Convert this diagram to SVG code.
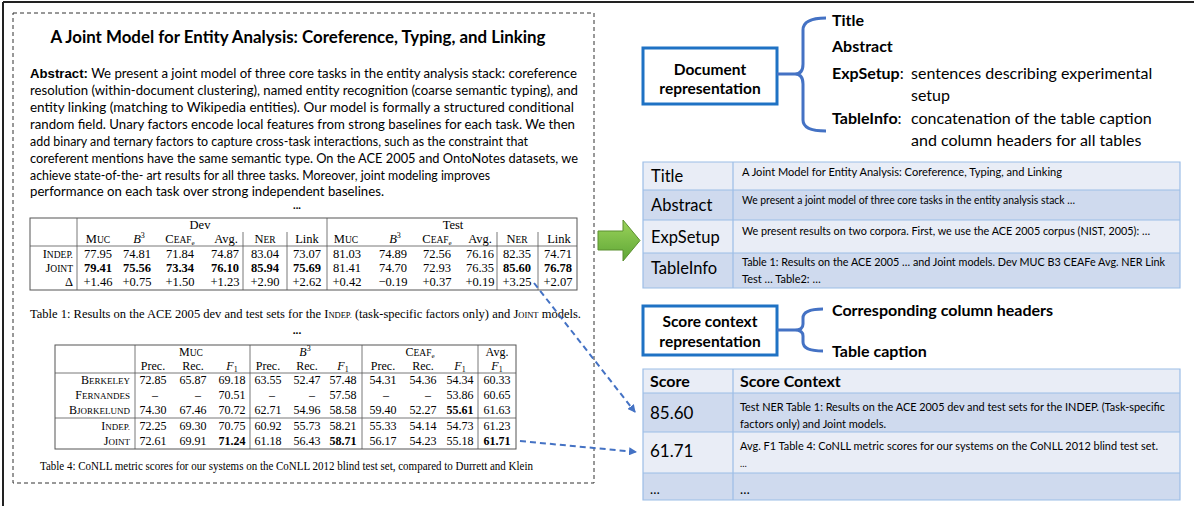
<svg xmlns="http://www.w3.org/2000/svg" width="1194" height="506" viewBox="0 0 1194 506">
<defs>
<style>
.cal{font-family:Lato,"Liberation Sans",sans-serif;fill:#000}
.calb{font-family:Lato,"Liberation Sans",sans-serif;font-weight:bold;fill:#000}
.ser{font-family:"Liberation Serif","Times New Roman",serif;fill:#000;font-size:12.5px}
.t4{font-size:12px}
.mid{text-anchor:middle}
.end{text-anchor:end}
.b{font-weight:bold}
.tl{stroke:#555;stroke-width:1;fill:none}
.tl2{stroke:#555;stroke-width:0.8;fill:none}
.rowL{fill:#e9edf6}
.rowD{fill:#cfdaee}
.grid{stroke:#9cbde6;stroke-width:1.2;fill:none}
.box{fill:#fff;stroke:#1f72c4;stroke-width:3}
.brace{fill:none;stroke:#4472c4;stroke-width:3;stroke-linejoin:round}
.conn{fill:none;stroke:#4472c4;stroke-width:2;stroke-dasharray:6,4}
.sm{font-size:9.5px}
</style>
<linearGradient id="gg" x1="0" y1="0" x2="0" y2="1">
<stop offset="0" stop-color="#9bd35a"/>
<stop offset="1" stop-color="#5ea636"/>
</linearGradient>
<marker id="ah" markerWidth="8" markerHeight="8" refX="7" refY="4" orient="auto" markerUnits="userSpaceOnUse">
<path d="M0,0 L8,4 L0,8 z" fill="#4472c4"/>
</marker>
</defs>
<rect width="1194" height="506" fill="#fff"/>
<!-- outer frame -->
<path d="M3,2 L1194,2 M3,2 L3,506" stroke="#222" stroke-width="2" fill="none"/>

<!-- paper excerpt -->
<g id="paper">
<rect x="13" y="13" width="581" height="470" fill="none" stroke="#333" stroke-width="1" stroke-dasharray="4,3"/>
<text class="calb mid" x="298" y="43" font-size="16.5" textLength="495" lengthAdjust="spacingAndGlyphs">A Joint Model for Entity Analysis: Coreference, Typing, and Linking</text>
<g class="cal" font-size="13.5">
<text x="30" y="78" textLength="547" lengthAdjust="spacingAndGlyphs"><tspan font-family="Liberation Sans,sans-serif" font-weight="bold">Abstract:</tspan> We present a joint model of three core tasks in the entity analysis stack: coreference</text>
<text x="30" y="95" textLength="548" lengthAdjust="spacingAndGlyphs">resolution (within-document clustering), named entity recognition (coarse semantic typing), and</text>
<text x="30" y="112" textLength="544" lengthAdjust="spacingAndGlyphs">entity linking (matching to Wikipedia entities). Our model is formally a structured conditional</text>
<text x="30" y="129" textLength="545" lengthAdjust="spacingAndGlyphs">random field. Unary factors encode local features from strong baselines for each task. We then</text>
<text x="30" y="146" textLength="498" lengthAdjust="spacingAndGlyphs">add binary and ternary factors to capture cross-task interactions, such as the constraint that</text>
<text x="30" y="163" textLength="548" lengthAdjust="spacingAndGlyphs">coreferent mentions have the same semantic type. On the ACE 2005 and OntoNotes datasets, we</text>
<text x="30" y="180" textLength="460" lengthAdjust="spacingAndGlyphs">achieve state-of-the- art results for all three tasks. Moreover, joint modeling improves</text>
<text x="30" y="196" textLength="354" lengthAdjust="spacingAndGlyphs">performance on each task over strong independent baselines.</text>
</g>
<text class="calb mid" x="297" y="209" font-size="11">...</text>

<!-- Table 1 -->
<g id="table1">
<rect class="tl" x="30" y="218" width="547" height="72"/>
<path class="tl2" d="M77,218 V290 M327,218 V290 M243,232 V290 M287,232 V290 M497,232 V290 M538,232 V290 M30,246 H577"/>
<g class="ser">
<text class="mid" x="200" y="229">Dev</text>
<text class="mid" x="453" y="229">Test</text>
<g class="mid">
<text x="98" y="243"><tspan>M</tspan><tspan class="sm">UC</tspan></text>
<text x="139" y="243"><tspan font-style="italic">B</tspan><tspan font-size="8" dy="-5">3</tspan></text>
<text x="180" y="243"><tspan>C</tspan><tspan class="sm">EAF</tspan><tspan font-size="7" dy="2">e</tspan></text>
<text x="226" y="243">Avg.</text>
<text x="265" y="243"><tspan>N</tspan><tspan class="sm">ER</tspan></text>
<text x="307" y="243">Link</text>
<text x="346" y="243"><tspan>M</tspan><tspan class="sm">UC</tspan></text>
<text x="395" y="243"><tspan font-style="italic">B</tspan><tspan font-size="8" dy="-5">3</tspan></text>
<text x="437" y="243"><tspan>C</tspan><tspan class="sm">EAF</tspan><tspan font-size="7" dy="2">e</tspan></text>
<text x="480" y="243">Avg.</text>
<text x="517" y="243"><tspan>N</tspan><tspan class="sm">ER</tspan></text>
<text x="559" y="243">Link</text>
</g>
<g class="end">
<text x="73" y="258"><tspan>I</tspan><tspan class="sm">NDEP.</tspan></text>
<text x="73" y="272"><tspan>J</tspan><tspan class="sm">OINT</tspan></text>
<text x="73" y="286">Δ</text>
</g>
<g class="mid">
<text x="98" y="258">77.95</text><text x="137" y="258">74.81</text><text x="180" y="258">71.84</text><text x="225" y="258">74.87</text><text x="265" y="258">83.04</text><text x="307" y="258">73.07</text><text x="347" y="258">81.03</text><text x="393" y="258">74.89</text><text x="437" y="258">72.56</text><text x="480" y="258">76.16</text><text x="517" y="258">82.35</text><text x="558" y="258">74.71</text>
<g class="b"><text x="98" y="272">79.41</text><text x="137" y="272">75.56</text><text x="180" y="272">73.34</text><text x="225" y="272">76.10</text><text x="265" y="272">85.94</text><text x="307" y="272">75.69</text></g>
<text x="347" y="272">81.41</text><text x="393" y="272">74.70</text><text x="437" y="272">72.93</text><text x="480" y="272">76.35</text>
<g class="b"><text x="517" y="272">85.60</text><text x="558" y="272">76.78</text></g>
<text x="98" y="286">+1.46</text><text x="137" y="286">+0.75</text><text x="180" y="286">+1.50</text><text x="225" y="286">+1.23</text><text x="265" y="286">+2.90</text><text x="307" y="286">+2.62</text><text x="347" y="286">+0.42</text><text x="393" y="286">−0.19</text><text x="437" y="286">+0.37</text><text x="480" y="286">+0.19</text><text x="517" y="286">+3.25</text><text x="558" y="286">+2.07</text>
</g>
</g>
</g>
<text class="ser" x="30" y="318" font-size="11" textLength="551" lengthAdjust="spacingAndGlyphs">Table 1: Results on the ACE 2005 dev and test sets for the <tspan>I</tspan><tspan font-size="8.5">NDEP.</tspan> (task-specific factors only) and <tspan>J</tspan><tspan font-size="8.5">OINT</tspan> models.</text>
<text class="calb mid" x="297" y="334" font-size="12">...</text>

<!-- Table 4 -->
<g id="table4">
<rect class="tl" x="55" y="345" width="461" height="104"/>
<path class="tl2" d="M135,345 V449 M250,345 V449 M362,345 V449 M478,345 V449 M55,373 H516 M55,418 H516"/>
<g class="ser t4">
<g class="mid">
<text x="191" y="356"><tspan>M</tspan><tspan font-size="9.5">UC</tspan></text>
<text x="305" y="356"><tspan font-style="italic">B</tspan><tspan font-size="8" dy="-5">3</tspan></text>
<text x="420" y="356"><tspan>C</tspan><tspan font-size="9.5">EAF</tspan><tspan font-size="7" dy="2">e</tspan></text>
<text x="497" y="356">Avg.</text>
<text x="153" y="370">Prec.</text><text x="193" y="370">Rec.</text><text x="232" y="370"><tspan font-style="italic">F</tspan><tspan font-size="8" dy="2">1</tspan></text>
<text x="268" y="370">Prec.</text><text x="307" y="370">Rec.</text><text x="343" y="370"><tspan font-style="italic">F</tspan><tspan font-size="8" dy="2">1</tspan></text>
<text x="383" y="370">Prec.</text><text x="423" y="370">Rec.</text><text x="460" y="370"><tspan font-style="italic">F</tspan><tspan font-size="8" dy="2">1</tspan></text>
<text x="497" y="370"><tspan font-style="italic">F</tspan><tspan font-size="8" dy="2">1</tspan></text>
</g>
<g class="end">
<text x="130" y="384"><tspan>B</tspan><tspan font-size="9">ERKELEY</tspan></text>
<text x="130" y="399"><tspan>F</tspan><tspan font-size="9">ERNANDES</tspan></text>
<text x="130" y="414"><tspan>B</tspan><tspan font-size="9">JORKELUND</tspan></text>
<text x="130" y="430"><tspan>I</tspan><tspan font-size="9">NDEP.</tspan></text>
<text x="130" y="445"><tspan>J</tspan><tspan font-size="9">OINT</tspan></text>
</g>
<g class="mid">
<text x="153" y="384">72.85</text><text x="193" y="384">65.87</text><text x="232" y="384">69.18</text><text x="268" y="384">63.55</text><text x="307" y="384">52.47</text><text x="343" y="384">57.48</text><text x="383" y="384">54.31</text><text x="423" y="384">54.36</text><text x="460" y="384">54.34</text><text x="497" y="384">60.33</text>
<text x="155" y="399">–</text><text x="198" y="399">–</text><text x="232" y="399">70.51</text><text x="272" y="399">–</text><text x="312" y="399">–</text><text x="343" y="399">57.58</text><text x="386" y="399">–</text><text x="428" y="399">–</text><text x="460" y="399">53.86</text><text x="497" y="399">60.65</text>
<text x="153" y="414">74.30</text><text x="193" y="414">67.46</text><text x="232" y="414">70.72</text><text x="268" y="414">62.71</text><text x="307" y="414">54.96</text><text x="343" y="414">58.58</text><text x="383" y="414">59.40</text><text x="423" y="414">52.27</text><text class="b" x="460" y="414">55.61</text><text x="497" y="414">61.63</text>
<text x="153" y="430">72.25</text><text x="193" y="430">69.30</text><text x="232" y="430">70.75</text><text x="268" y="430">60.92</text><text x="307" y="430">55.73</text><text x="343" y="430">58.21</text><text x="383" y="430">55.33</text><text x="423" y="430">54.14</text><text x="460" y="430">54.73</text><text x="497" y="430">61.23</text>
<text x="153" y="445">72.61</text><text x="193" y="445">69.91</text><text class="b" x="232" y="445">71.24</text><text x="268" y="445">61.18</text><text x="307" y="445">56.43</text><text class="b" x="343" y="445">58.71</text><text x="383" y="445">56.17</text><text x="423" y="445">54.23</text><text x="460" y="445">55.18</text><text class="b" x="497" y="445">61.71</text>
</g>
</g>
</g>
<text class="ser" x="40" y="470" font-size="10.5" textLength="493" lengthAdjust="spacingAndGlyphs">Table 4: CoNLL metric scores for our systems on the CoNLL 2012 blind test set, compared to Durrett and Klein</text>
</g>

<!-- green arrow -->
<g id="green-arrow">
<polygon points="598,231 623,231 623,220 640,240.5 623,261 623,250 598,250" fill="url(#gg)" stroke="#5a8f2e" stroke-width="1"/>
</g>

<!-- document representation -->
<g id="doc-rep">
<rect class="box" x="643" y="48" width="134" height="56"/>
<text class="calb mid" x="710" y="75" font-size="15.5">Document</text>
<text class="calb mid" x="710" y="94" font-size="15.5">representation</text>
</g>
<g id="doc-brace">
<path class="brace" d="M777,74 L795,74 M826,18 Q803,18 803,30 L803,64 Q803,74 795,74 Q803,74 803,84 L803,120 Q803,131 826,131"/>
<text class="calb" x="832" y="26" font-size="16">Title</text>
<text class="calb" x="832" y="52" font-size="16">Abstract</text>
<text class="cal" x="832" y="79" font-size="16"><tspan font-weight="bold">ExpSetup</tspan>:<tspan x="911">sentences describing experimental</tspan></text>
<text class="cal" x="911" y="101" font-size="16">setup</text>
<text class="cal" x="832" y="124" font-size="16"><tspan font-weight="bold">TableInfo</tspan>:<tspan x="911">concatenation of the table caption</tspan></text>
<text class="cal" x="911" y="146" font-size="16">and column headers for all tables</text>
</g>

<!-- document table -->
<g id="doc-table">
<rect class="rowL" x="643" y="162" width="537" height="28"/>
<rect class="rowD" x="643" y="190" width="537" height="30"/>
<rect class="rowL" x="643" y="220" width="537" height="33"/>
<rect class="rowD" x="643" y="253" width="537" height="35"/>
<path class="grid" d="M643,162 H1180 V288 H643 Z M733,162 V288 M643,190 H1180 M643,220 H1180 M643,253 H1180"/>
<g class="cal" font-size="16.5">
<text x="651" y="182">Title</text>
<text x="651" y="211">Abstract</text>
<text x="651" y="243">ExpSetup</text>
<text x="651" y="274">TableInfo</text>
</g>
<g class="cal" font-size="11">
<text x="742" y="176" textLength="320" lengthAdjust="spacingAndGlyphs">A Joint Model for Entity Analysis: Coreference, Typing, and Linking</text>
<text x="742" y="204" textLength="333" lengthAdjust="spacingAndGlyphs">We present a joint model of three core tasks in the entity analysis stack …</text>
<text x="742" y="235" textLength="408" lengthAdjust="spacingAndGlyphs">We present results on two corpora. First, we use the ACE 2005 corpus (NIST, 2005): …</text>
<text x="742" y="266" textLength="423" lengthAdjust="spacingAndGlyphs">Table 1: Results on the ACE 2005 … and Joint models. Dev MUC B3 CEAFe Avg. NER Link</text>
<text x="742" y="283">Test … Table2: …</text>
</g>
</g>

<!-- score context representation -->
<g id="score-rep">
<rect class="box" x="643" y="306" width="134" height="49"/>
<text class="calb mid" x="710" y="327" font-size="15.5">Score context</text>
<text class="calb mid" x="710" y="347" font-size="15.5">representation</text>
</g>
<g id="score-brace">
<path class="brace" d="M777,330 L795,330 M823,309 Q803,309 803,318 L803,324 Q803,330 795,330 Q803,330 803,336 L803,342 Q803,351 823,351"/>
<text class="calb" x="832" y="316" font-size="16">Corresponding column headers</text>
<text class="calb" x="832" y="357" font-size="16">Table caption</text>
</g>

<!-- score table -->
<g id="score-table">
<rect class="rowL" x="643" y="369" width="537" height="24"/>
<rect class="rowD" x="643" y="393" width="537" height="39"/>
<rect class="rowL" x="643" y="432" width="537" height="41"/>
<rect class="rowD" x="643" y="473" width="537" height="27"/>
<path class="grid" d="M643,369 H1180 V500 H643 Z M733,369 V500 M643,393 H1180 M643,432 H1180 M643,473 H1180"/>
<text class="calb" x="650" y="387" font-size="16">Score</text>
<text class="calb" x="740" y="387" font-size="16">Score Context</text>
<text class="cal" x="650" y="419" font-size="17">85.60</text>
<text class="cal" x="650" y="457" font-size="17">61.71</text>
<g class="cal" font-size="11">
<text x="740" y="411" textLength="425" lengthAdjust="spacingAndGlyphs">Test NER Table 1: Results on the ACE 2005 dev and test sets for the INDEP. (Task-specific</text>
<text x="740" y="428">factors only) and Joint models.</text>
<text x="740" y="450" textLength="418" lengthAdjust="spacingAndGlyphs">Avg. F1 Table 4: CoNLL metric scores for our systems on the CoNLL 2012 blind test set.</text>
<text x="740" y="467" font-size="9">…</text>
</g>
<text class="cal" x="650" y="494" font-size="13">…</text>
<text class="cal" x="740" y="494" font-size="13">…</text>
</g>

<!-- connectors -->
<g id="connectors">
<path class="conn" d="M534,283 L635,412" marker-end="url(#ah)"/>
<path class="conn" d="M520,441 L636,452" marker-end="url(#ah)"/>
</g>
</svg>
